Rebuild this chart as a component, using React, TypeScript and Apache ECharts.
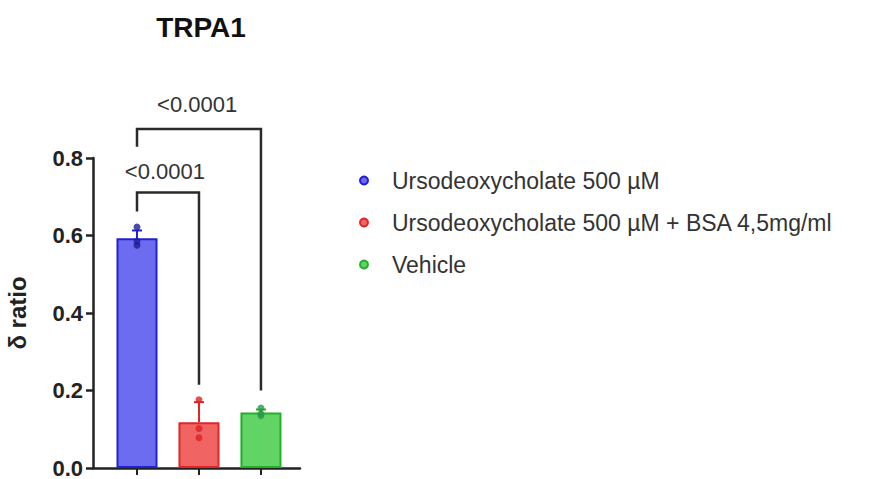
import React, { useEffect, useRef } from "react";
import * as echarts from "echarts";

const title = "TRPA1";
const yAxisName = "δ ratio";
const groups = [
  "Ursodeoxycholate 500 µM",
  "Ursodeoxycholate 500 µM + BSA 4,5mg/ml",
  "Vehicle",
];
const means = [0.593, 0.118, 0.143];
const sds = [0.02, 0.052, 0.008];
const points = [
  [0.622, 0.585, 0.575],
  [0.176, 0.102, 0.078],
  [0.155, 0.14, 0.135],
];
const yTicks = [0, 0.2, 0.4, 0.6, 0.8];
// bracket: [from, to, top, leftEnd, rightEnd, label, labelX, labelY]
const brackets: [number, number, number, number, number, string, number, number][] = [
  [0, 1, 0.711, 0.662, 0.215, "<0.0001", 0.45, 0.764],
  [0, 2, 0.875, 0.829, 0.2, "<0.0001", 0.97, 0.938],
];

const fills = ["#6c6cf0", "#f06464", "#62d466"];
const borders = ["#2020d4", "#e42424", "#22b02a"];
const dots = ["#1e1e96", "#dd2222", "#2a9a4a"];

export default function App() {
  const ref = useRef<HTMLDivElement>(null);
  useEffect(() => {
    const chart = echarts.init(ref.current!, null, { renderer: "svg" });
    const font = "'Liberation Sans', Arial, sans-serif";
    const series: any[] = [];
    groups.forEach((g, i) => {
      series.push({
        type: "bar",
        name: g,
        data: [[i, means[i]]],
        barWidth: 41,
        barGap: "-100%",
        itemStyle: { color: fills[i], borderColor: borders[i], borderWidth: 2 },
        z: 2,
      });
    });
    groups.forEach((g, i) => {
      series.push({
        type: "custom",
        name: g + " sd",
        data: [[i, means[i], means[i] + sds[i]]],
        renderItem: (params: any, api: any) => {
          const x = api.value(0);
          const p1 = api.coord([x, api.value(1)]);
          const p2 = api.coord([x, api.value(2)]);
          return {
            type: "group",
            children: [
              { type: "line", shape: { x1: p1[0], y1: p1[1], x2: p2[0], y2: p2[1] }, style: { stroke: borders[i], lineWidth: 2 } },
              { type: "line", shape: { x1: p2[0] - 5, y1: p2[1], x2: p2[0] + 5, y2: p2[1] }, style: { stroke: borders[i], lineWidth: 2 } },
            ],
          };
        },
        z: 3,
      });
      series.push({
        type: "scatter",
        name: g + " pts",
        data: points[i].map((v) => [i, v]),
        symbol: "circle",
        symbolSize: 7,
        itemStyle: { color: dots[i] },
        z: 4,
      });
    });
    series.push({
      type: "custom",
      name: "brackets",
      clip: false,
      data: brackets.map((b) => [b[0], b[1], b[2], b[3], b[4], b[6], b[7]]),
      renderItem: (params: any, api: any) => {
        const a = api.value(0), b = api.value(1);
        const top = api.value(2), le = api.value(3), re = api.value(4);
        const lx = api.value(5), ly = api.value(6);
        const pTL = api.coord([a, top]);
        const pTR = api.coord([b, top]);
        const pL = api.coord([a, le]);
        const pR = api.coord([b, re]);
        const pLab = api.coord([lx, ly]);
        const label = brackets[params.dataIndex][5];
        return {
          type: "group",
          children: [
            {
              type: "polyline",
              shape: { points: [pL, pTL, pTR, pR] },
              style: { stroke: "#2a2a2a", lineWidth: 2.5, fill: "none" },
            },
            {
              type: "text",
              x: pLab[0],
              y: pLab[1],
              style: { text: label, fill: "#333", font: `22px ${font}`, align: "center", verticalAlign: "middle" },
            },
          ],
        };
      },
      z: 5,
    });
    chart.setOption({
      animation: false,
      backgroundColor: "#fff",
      title: {
        text: title,
        left: 196,
        top: 8,
        textAlign: "center",
        textStyle: { fontFamily: font, fontWeight: "bold", fontSize: 28, color: "#111" },
      },
      legend: {
        data: groups,
        orient: "vertical",
        left: 354,
        top: 164,
        itemWidth: 8,
        itemHeight: 8,
        itemGap: 19,
        icon: "circle",
        textStyle: { fontFamily: font, fontSize: 23, color: "#333", padding: [0, 0, 0, 19] },
      },
      grid: { left: 93, right: 580, top: 158, bottom: 8, containLabel: false },
      xAxis: {
        type: "value",
        min: -0.71,
        max: 2.63,
        splitLine: { show: false },
        axisLine: { lineStyle: { color: "#222", width: 2.5 } },
        axisTick: { show: true, customValues: [0, 1, 2], length: 7, lineStyle: { color: "#222", width: 2 } },
        axisLabel: { show: false },
      },
      yAxis: {
        type: "value",
        min: 0,
        max: 0.8,
        interval: 0.2,
        name: yAxisName,
        nameLocation: "middle",
        nameGap: 64,
        nameRotate: 90,
        nameTextStyle: { fontFamily: font, fontWeight: "bold", fontSize: 24, color: "#222" },
        splitLine: { show: false },
        axisLine: { show: true, onZero: false, lineStyle: { color: "#222", width: 2.5 } },
        axisTick: { show: true, length: 7, lineStyle: { color: "#222", width: 2.5 } },
        axisLabel: {
          fontFamily: font,
          fontWeight: "bold",
          fontSize: 22,
          color: "#222",
          margin: 10,
          customValues: yTicks,
          formatter: (v: number) => v.toFixed(1),
        },
      },
      series,
    });
    return () => chart.dispose();
  }, []);
  return <div ref={ref} style={{ width: 880, height: 479, position: "absolute", left: 0, top: 0 }} />;
}
